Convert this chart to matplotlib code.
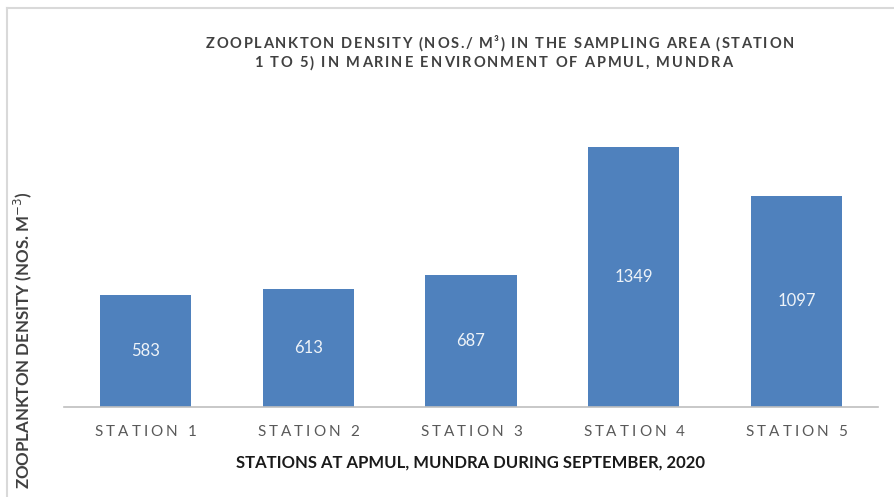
#!/usr/bin/env python3
"""Zooplankton density bar chart (stations 1 to 5, APMUL Mundra)."""

import matplotlib
matplotlib.use("Agg")
import matplotlib.pyplot as plt
from matplotlib.font_manager import FontProperties
from matplotlib.lines import Line2D
from matplotlib.textpath import TextToPath


# =============================================================================
# Data
# =============================================================================

STATIONS = ["STATION 1", "STATION 2", "STATION 3", "STATION 4", "STATION 5"]
DENSITY = [583, 613, 687, 1349, 1097]

TITLE_LINES = [
    "ZOOPLANKTON DENSITY (NOS./ M\u00b3) IN THE SAMPLING AREA (STATION",
    "1 TO 5) IN MARINE ENVIRONMENT OF APMUL, MUNDRA",
]
XLABEL = "STATIONS AT APMUL, MUNDRA DURING SEPTEMBER, 2020"
YLABEL = "ZOOPLANKTON DENSITY (NOS. M$^{-3}$)"

BAR_COLOR = "#4F81BD"

W_PX, H_PX = 894, 497
DPI = 100


# =============================================================================
# Helpers
# =============================================================================

_T2P = TextToPath()


def spaced_text(fig, cx_px, cy_px, s, tracking_px, **kw):
    """Draw text centred at (cx_px, cy_px) with extra letter spacing.

    matplotlib has no letter-spacing option, so each character is placed
    one after the other using its advance width.
    """
    prop = FontProperties(
        family=kw.get("family", "Lato"),
        weight=kw.get("fontweight", "normal"),
        size=kw.get("fontsize", 10),
    )
    widths = []
    for ch in s:
        w_pt, _, _ = _T2P.get_text_width_height_descent(ch, prop, ismath=False)
        widths.append(w_pt * DPI / 72.0)

    total = sum(widths) + tracking_px * (len(s) - 1)
    x = cx_px - total / 2.0
    for ch, w in zip(s, widths):
        if ch != " ":
            fig.text(x / W_PX, 1.0 - cy_px / H_PX, ch,
                     ha="left", va="center", fontproperties=prop,
                     color=kw.get("color", "black"))
        x += w + tracking_px


# =============================================================================
# Plot
# =============================================================================

def main() -> None:
    plt.rcParams["font.family"] = ["Lato", "DejaVu Sans"]

    fig = plt.figure(figsize=(W_PX / DPI, H_PX / DPI), dpi=DPI)
    ax = fig.add_axes([0.0716, 0.1811, 0.9105, 0.6197])

    x = list(range(len(STATIONS)))
    bars = ax.bar(x, DENSITY, width=0.56, color=BAR_COLOR, zorder=2)

    for bar, value in zip(bars, DENSITY):
        ax.text(
            bar.get_x() + bar.get_width() / 2,
            value / 2,
            f"{value}",
            ha="center",
            va="center",
            color="#eef3f8",
            fontsize=12,
        )

    ax.set_xlim(-0.5, len(STATIONS) - 0.5)
    ax.set_ylim(0, 1600)
    ax.set_xticks(x)
    ax.set_xticklabels([])
    ax.tick_params(axis="x", length=0)
    ax.set_yticks([])

    for side in ("top", "right", "left"):
        ax.spines[side].set_visible(False)
    ax.spines["bottom"].set_color("#bfbfbf")
    ax.spines["bottom"].set_linewidth(1.2)

    # Category labels, letter-spaced like the original.
    fig.canvas.draw()
    for pos, label in zip(x, STATIONS):
        px, _ = ax.transData.transform((pos, 0))
        spaced_text(fig, px, 432, label, 3.0,
                    fontsize=11, color="#595959")

    # Title, two letter-spaced lines.
    spaced_text(fig, 500, 44, TITLE_LINES[0], 1.6,
                fontsize=10.5, fontweight="bold", color="#404040")
    spaced_text(fig, 493, 63, TITLE_LINES[1], 1.9,
                fontsize=10.5, fontweight="bold", color="#404040")

    fig.text(0.526, 0.070, XLABEL, ha="center", va="center",
             fontsize=12, fontweight="bold", color="#1a1a1a")
    fig.text(0.025, 0.316, YLABEL, ha="center", va="center",
             rotation=90, fontsize=12.2, fontweight="bold", color="#404040")

    # Chart border (top and left edges visible in the crop).
    fig.add_artist(Line2D([0.008, 1.0], [0.984, 0.984], color="#d9d9d9",
                          linewidth=1.5, transform=fig.transFigure))
    fig.add_artist(Line2D([0.008, 0.008], [0.0, 0.984], color="#d9d9d9",
                          linewidth=1.5, transform=fig.transFigure))

    fig.savefig("out.png", dpi=DPI, facecolor="white")
    plt.close(fig)


if __name__ == "__main__":
    main()
